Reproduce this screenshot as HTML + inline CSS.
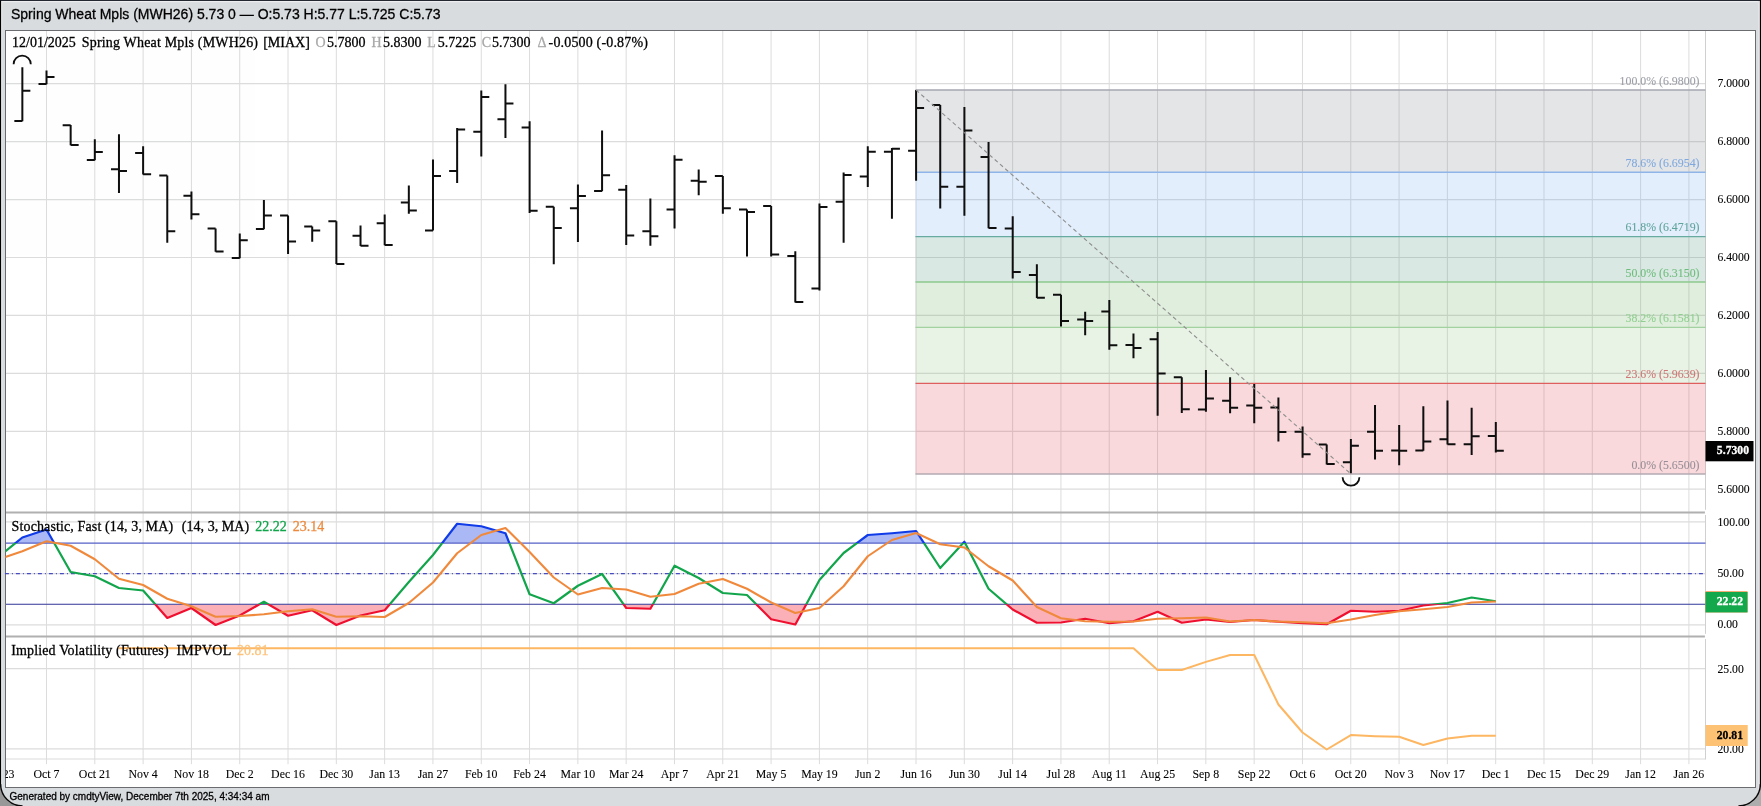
<!DOCTYPE html><html><head><meta charset="utf-8"><title>chart</title>
<style>html,body{margin:0;padding:0;background:#d9dcdf;overflow:hidden}svg{display:block;will-change:transform;opacity:.999}text{font-family:"Liberation Serif",serif;stroke-width:.28px}.s{font-family:"Liberation Sans",sans-serif}</style></head><body>
<svg width="1761" height="806" viewBox="0 0 1761 806">
<defs>
<clipPath id="cp"><rect x="5.5" y="30" width="1700" height="760"/></clipPath>
<clipPath id="cHi"><rect x="5.5" y="500" width="1700" height="43"/></clipPath>
<clipPath id="cMid"><rect x="5.5" y="543" width="1700" height="61.25"/></clipPath>
<clipPath id="cLo"><rect x="5.5" y="604.25" width="1700" height="40"/></clipPath>
</defs>
<rect x="0" y="0" width="1761" height="806" fill="#d9dcdf"/>
<rect x="5.5" y="30.5" width="1750" height="757" fill="#ffffff" stroke="#6a6c70" stroke-width="1"/>
<line x1="46.50" y1="31" x2="46.50" y2="764.2" stroke="#dcdcdc" stroke-width="1"/>
<line x1="94.81" y1="31" x2="94.81" y2="764.2" stroke="#dcdcdc" stroke-width="1"/>
<line x1="143.11" y1="31" x2="143.11" y2="764.2" stroke="#dcdcdc" stroke-width="1"/>
<line x1="191.42" y1="31" x2="191.42" y2="764.2" stroke="#dcdcdc" stroke-width="1"/>
<line x1="239.72" y1="31" x2="239.72" y2="764.2" stroke="#dcdcdc" stroke-width="1"/>
<line x1="288.03" y1="31" x2="288.03" y2="764.2" stroke="#dcdcdc" stroke-width="1"/>
<line x1="336.34" y1="31" x2="336.34" y2="764.2" stroke="#dcdcdc" stroke-width="1"/>
<line x1="384.64" y1="31" x2="384.64" y2="764.2" stroke="#dcdcdc" stroke-width="1"/>
<line x1="432.95" y1="31" x2="432.95" y2="764.2" stroke="#dcdcdc" stroke-width="1"/>
<line x1="481.25" y1="31" x2="481.25" y2="764.2" stroke="#dcdcdc" stroke-width="1"/>
<line x1="529.56" y1="31" x2="529.56" y2="764.2" stroke="#dcdcdc" stroke-width="1"/>
<line x1="577.87" y1="31" x2="577.87" y2="764.2" stroke="#dcdcdc" stroke-width="1"/>
<line x1="626.17" y1="31" x2="626.17" y2="764.2" stroke="#dcdcdc" stroke-width="1"/>
<line x1="674.48" y1="31" x2="674.48" y2="764.2" stroke="#dcdcdc" stroke-width="1"/>
<line x1="722.78" y1="31" x2="722.78" y2="764.2" stroke="#dcdcdc" stroke-width="1"/>
<line x1="771.09" y1="31" x2="771.09" y2="764.2" stroke="#dcdcdc" stroke-width="1"/>
<line x1="819.40" y1="31" x2="819.40" y2="764.2" stroke="#dcdcdc" stroke-width="1"/>
<line x1="867.70" y1="31" x2="867.70" y2="764.2" stroke="#dcdcdc" stroke-width="1"/>
<line x1="916.01" y1="31" x2="916.01" y2="764.2" stroke="#dcdcdc" stroke-width="1"/>
<line x1="964.31" y1="31" x2="964.31" y2="764.2" stroke="#dcdcdc" stroke-width="1"/>
<line x1="1012.62" y1="31" x2="1012.62" y2="764.2" stroke="#dcdcdc" stroke-width="1"/>
<line x1="1060.93" y1="31" x2="1060.93" y2="764.2" stroke="#dcdcdc" stroke-width="1"/>
<line x1="1109.23" y1="31" x2="1109.23" y2="764.2" stroke="#dcdcdc" stroke-width="1"/>
<line x1="1157.54" y1="31" x2="1157.54" y2="764.2" stroke="#dcdcdc" stroke-width="1"/>
<line x1="1205.84" y1="31" x2="1205.84" y2="764.2" stroke="#dcdcdc" stroke-width="1"/>
<line x1="1254.15" y1="31" x2="1254.15" y2="764.2" stroke="#dcdcdc" stroke-width="1"/>
<line x1="1302.46" y1="31" x2="1302.46" y2="764.2" stroke="#dcdcdc" stroke-width="1"/>
<line x1="1350.76" y1="31" x2="1350.76" y2="764.2" stroke="#dcdcdc" stroke-width="1"/>
<line x1="1399.07" y1="31" x2="1399.07" y2="764.2" stroke="#dcdcdc" stroke-width="1"/>
<line x1="1447.37" y1="31" x2="1447.37" y2="764.2" stroke="#dcdcdc" stroke-width="1"/>
<line x1="1495.68" y1="31" x2="1495.68" y2="764.2" stroke="#dcdcdc" stroke-width="1"/>
<line x1="1543.99" y1="31" x2="1543.99" y2="764.2" stroke="#dcdcdc" stroke-width="1"/>
<line x1="1592.29" y1="31" x2="1592.29" y2="764.2" stroke="#dcdcdc" stroke-width="1"/>
<line x1="1640.60" y1="31" x2="1640.60" y2="764.2" stroke="#dcdcdc" stroke-width="1"/>
<line x1="1688.90" y1="31" x2="1688.90" y2="764.2" stroke="#dcdcdc" stroke-width="1"/>
<line x1="6" y1="83.70" x2="1705.5" y2="83.70" stroke="#dcdcdc" stroke-width="1.2"/>
<line x1="6" y1="141.63" x2="1705.5" y2="141.63" stroke="#dcdcdc" stroke-width="1.2"/>
<line x1="6" y1="199.56" x2="1705.5" y2="199.56" stroke="#dcdcdc" stroke-width="1.2"/>
<line x1="6" y1="257.49" x2="1705.5" y2="257.49" stroke="#dcdcdc" stroke-width="1.2"/>
<line x1="6" y1="315.42" x2="1705.5" y2="315.42" stroke="#dcdcdc" stroke-width="1.2"/>
<line x1="6" y1="373.35" x2="1705.5" y2="373.35" stroke="#dcdcdc" stroke-width="1.2"/>
<line x1="6" y1="431.28" x2="1705.5" y2="431.28" stroke="#dcdcdc" stroke-width="1.2"/>
<line x1="6" y1="489.21" x2="1705.5" y2="489.21" stroke="#dcdcdc" stroke-width="1.2"/>
<line x1="6" y1="521.90" x2="1705.5" y2="521.90" stroke="#dcdcdc" stroke-width="1.2"/>
<line x1="6" y1="573.70" x2="1705.5" y2="573.70" stroke="#dcdcdc" stroke-width="1.2"/>
<line x1="6" y1="624.80" x2="1705.5" y2="624.80" stroke="#dcdcdc" stroke-width="1.2"/>
<line x1="6" y1="668.70" x2="1705.5" y2="668.70" stroke="#dcdcdc" stroke-width="1.2"/>
<line x1="6" y1="748.90" x2="1705.5" y2="748.90" stroke="#dcdcdc" stroke-width="1.2"/>
<line x1="6" y1="759" x2="1705.5" y2="759" stroke="#dcdcdc" stroke-width="1.2"/>
<line x1="1705.5" y1="31" x2="1705.5" y2="759.5" stroke="#d0d0d0" stroke-width="1"/>
<rect x="915.5" y="90" width="790.0" height="82.30" fill="rgba(120,123,134,0.2)"/>
<rect x="915.5" y="172.3" width="790.0" height="64.30" fill="rgba(100,165,240,0.185)"/>
<rect x="915.5" y="236.6" width="790.0" height="45.40" fill="rgba(70,140,120,0.2)"/>
<rect x="915.5" y="282" width="790.0" height="45.40" fill="rgba(100,170,85,0.2)"/>
<rect x="915.5" y="327.4" width="790.0" height="56.00" fill="rgba(140,190,125,0.2)"/>
<rect x="915.5" y="383.4" width="790.0" height="90.60" fill="rgba(225,65,75,0.2)"/>
<line x1="915.5" y1="90" x2="1705.5" y2="90" stroke="#a6a7b0" stroke-width="1.4"/>
<line x1="915.5" y1="172.3" x2="1705.5" y2="172.3" stroke="#8fb5e8" stroke-width="1.4"/>
<line x1="915.5" y1="236.6" x2="1705.5" y2="236.6" stroke="#66aaa0" stroke-width="1.4"/>
<line x1="915.5" y1="282" x2="1705.5" y2="282" stroke="#8cc98c" stroke-width="1.4"/>
<line x1="915.5" y1="327.4" x2="1705.5" y2="327.4" stroke="#a2d29f" stroke-width="1.4"/>
<line x1="915.5" y1="383.4" x2="1705.5" y2="383.4" stroke="#df5f5f" stroke-width="1.4"/>
<line x1="915.5" y1="474" x2="1705.5" y2="474" stroke="#b3aab2" stroke-width="1.4"/>
<path d="M22.35 67.20V121.20M14.35 121.00H22.35M22.35 90.70H30.35M46.51 70.60V84.30M38.51 84.10H46.51M46.51 77.00H54.51M70.66 125.00V145.25M62.66 125.25H70.66M70.66 145.00H78.66M94.81 139.25V160.25M86.81 160.00H94.81M94.81 152.00H102.81M118.97 134.25V193.00M110.97 169.25H118.97M118.97 171.00H126.97M143.12 146.25V174.50M135.12 153.00H143.12M143.12 174.25H151.12M167.28 175.50V242.75M159.28 175.50H167.28M167.28 231.25H175.28M191.44 191.50V219.50M183.44 195.75H191.44M191.44 214.25H199.44M215.59 228.50V251.75M207.59 228.50H215.59M215.59 251.50H223.59M239.75 233.50V258.25M231.75 258.00H239.75M239.75 240.25H247.75M263.90 200.00V229.25M255.90 229.00H263.90M263.90 215.50H271.90M288.06 215.50V254.00M280.06 215.50H288.06M288.06 241.50H296.06M312.21 226.50V241.75M304.21 226.50H312.21M312.21 230.50H320.21M336.37 221.25V264.00M328.37 221.25H336.37M336.37 264.00H344.37M360.52 225.50V246.00M352.52 235.75H360.52M360.52 245.75H368.52M384.68 214.50V245.25M376.68 223.25H384.68M384.68 245.00H392.68M408.83 185.50V213.75M400.83 202.50H408.83M408.83 210.50H416.83M432.99 159.40V230.60M424.99 230.40H432.99M432.99 176.00H440.99M457.14 128.00V183.00M449.14 171.00H457.14M457.14 129.50H465.14M481.30 90.50V156.50M473.30 131.75H481.30M481.30 97.00H489.30M505.45 84.25V138.00M497.45 119.25H505.45M505.45 103.50H513.45M529.61 121.25V213.00M521.61 127.50H529.61M529.61 210.75H537.61M553.76 206.75V264.25M545.76 206.75H553.76M553.76 228.00H561.76M577.92 184.50V242.00M569.92 208.25H577.92M577.92 196.00H585.92M602.07 130.50V191.25M594.07 191.00H602.07M602.07 175.25H610.07M626.23 185.00V245.00M618.23 189.75H626.23M626.23 235.50H634.23M650.38 198.50V245.75M642.38 231.25H650.38M650.38 236.25H658.38M674.54 155.25V228.50M666.54 209.50H674.54M674.54 159.75H682.54M698.69 169.50V195.25M690.69 180.75H698.69M698.69 181.75H706.69M722.85 176.00V213.75M714.85 176.00H722.85M722.85 208.25H730.85M747.00 209.50V256.50M739.00 209.50H747.00M747.00 212.00H755.00M771.16 206.00V256.50M763.16 206.00H771.16M771.16 254.40H779.16M795.31 251.25V302.50M787.31 256.00H795.31M795.31 302.10H803.31M819.47 203.50V290.40M811.47 288.40H819.47M819.47 207.00H827.47M843.62 172.50V242.75M835.62 201.75H843.62M843.62 175.00H851.62M867.78 146.25V187.00M859.78 176.50H867.78M867.78 151.75H875.78M891.93 148.00V218.75M883.93 151.75H891.93M891.93 148.75H899.93M916.09 90.00V180.75M908.09 150.75H916.09M916.09 108.00H924.09M940.24 105.00V208.50M932.24 105.00H940.24M940.24 186.75H948.24M964.40 107.00V215.75M956.40 186.75H964.40M964.40 130.50H972.40M988.55 142.00V228.25M980.55 157.00H988.55M988.55 228.00H996.55M1012.71 216.25V278.50M1004.71 228.60H1012.71M1012.71 272.00H1020.71M1036.86 264.25V298.00M1028.86 275.00H1036.86M1036.86 297.75H1044.86M1061.01 294.75V326.50M1053.01 294.75H1061.01M1061.01 321.00H1069.01M1085.17 311.75V335.25M1077.17 319.50H1085.17M1085.17 321.00H1093.17M1109.33 300.00V349.75M1101.33 311.50H1109.33M1109.33 345.25H1117.33M1133.48 333.60V358.25M1125.48 345.10H1133.48M1133.48 348.10H1141.48M1157.63 331.90V415.75M1149.63 339.25H1157.63M1157.63 373.40H1165.63M1181.79 377.25V413.00M1173.79 377.25H1181.79M1181.79 409.25H1189.79M1205.94 370.00V411.75M1197.94 409.50H1205.94M1205.94 398.50H1213.94M1230.10 377.25V413.25M1222.10 400.75H1230.10M1230.10 407.75H1238.10M1254.25 384.00V423.25M1246.25 405.50H1254.25M1254.25 407.75H1262.25M1278.41 397.60V441.50M1270.41 407.50H1278.41M1278.41 432.00H1286.41M1302.57 426.50V457.75M1294.57 431.75H1302.57M1302.57 454.25H1310.57M1326.72 444.50V464.50M1318.72 444.50H1326.72M1326.72 464.00H1334.72M1350.88 439.00V473.25M1342.88 462.25H1350.88M1350.88 445.75H1358.88M1375.03 405.00V459.50M1367.03 431.75H1375.03M1375.03 450.75H1383.03M1399.18 425.00V465.25M1391.18 450.50H1399.18M1399.18 450.75H1407.18M1423.34 406.25V450.75M1415.34 450.50H1423.34M1423.34 441.50H1431.34M1447.49 400.50V444.50M1439.49 439.25H1447.49M1447.49 444.25H1455.49M1471.65 407.75V455.00M1463.65 444.25H1471.65M1471.65 436.25H1479.65M1495.81 422.00V452.50M1487.81 436.00H1495.81M1495.81 450.75H1503.81" stroke="#0e0e0e" stroke-width="2" fill="none"/>
<line x1="916" y1="90" x2="1351" y2="474" stroke="#8e8e8e" stroke-width="1.1" stroke-dasharray="4,3"/>
<text x="1699.5" y="84.8" font-size="11.85" text-anchor="end" fill="#9b9da6" stroke="#9b9da6" style="stroke-width:.08px">100.0% (6.9800)</text>
<text x="1699.5" y="167.1" font-size="11.85" text-anchor="end" fill="#7fa8de" stroke="#7fa8de" style="stroke-width:.08px">78.6% (6.6954)</text>
<text x="1699.5" y="231.4" font-size="11.85" text-anchor="end" fill="#5fa39b" stroke="#5fa39b" style="stroke-width:.08px">61.8% (6.4719)</text>
<text x="1699.5" y="276.8" font-size="11.85" text-anchor="end" fill="#6fbd7c" stroke="#6fbd7c" style="stroke-width:.08px">50.0% (6.3150)</text>
<text x="1699.5" y="322.2" font-size="11.85" text-anchor="end" fill="#90cf90" stroke="#90cf90" style="stroke-width:.08px">38.2% (6.1581)</text>
<text x="1699.5" y="378.2" font-size="11.85" text-anchor="end" fill="#cf7676" stroke="#cf7676" style="stroke-width:.08px">23.6% (5.9639)</text>
<text x="1699.5" y="468.8" font-size="11.85" text-anchor="end" fill="#978e97" stroke="#978e97" style="stroke-width:.08px">0.0% (5.6500)</text>
<rect x="1704.9" y="509.79999999999995" width="1.4" height="5.2" fill="#fff"/>
<line x1="6" y1="512.4" x2="1704.9" y2="512.4" stroke="#b0b0b0" stroke-width="2"/>
<rect x="1704.9" y="633.8" width="1.4" height="5.2" fill="#fff"/>
<line x1="6" y1="636.4" x2="1704.9" y2="636.4" stroke="#b0b0b0" stroke-width="2"/>
<path d="M13.6 64.2A8.4 8.4 0 0 1 30.8 64.2" stroke="#0e0e0e" stroke-width="1.8" fill="none"/>
<path d="M1342.6 477.3A8.4 8.4 0 0 0 1359.4 477.3" stroke="#0e0e0e" stroke-width="1.8" fill="none"/>
<g clip-path="url(#cp)">
<polygon clip-path="url(#cHi)" points="-1.80,543 -1.80,557.2 22.35,537.5 46.51,529.5 70.66,572 94.81,576.25 118.97,588 143.12,590.5 167.28,618 191.44,608 215.59,625 239.75,615.5 263.90,601.75 288.06,615.75 312.21,610.25 336.37,625 360.52,615.5 384.68,610.25 408.83,582 432.99,555 457.14,523.75 481.30,526.25 505.45,533.25 529.61,594.25 553.76,603.25 577.92,585.75 602.07,574 626.23,608 650.38,608.75 674.54,565.75 698.69,578 722.85,593 747.00,595 771.16,619.25 795.31,624.5 819.47,580 843.62,553 867.78,535 891.93,533.25 916.09,531 940.24,568 964.40,541.75 988.55,588.75 1012.71,609.5 1036.86,622.75 1061.01,622.5 1085.17,618.75 1109.33,623.25 1133.48,621.25 1157.63,611.75 1181.79,622.75 1205.94,619.5 1230.10,622 1254.25,620 1278.41,621.75 1302.57,623.25 1326.72,624.25 1350.88,610.75 1375.03,611.75 1399.18,610.75 1423.34,605.5 1447.49,603 1471.65,597.5 1495.81,601.25 1495.81,543" fill="#aab9f6"/>
<polygon clip-path="url(#cLo)" points="-1.80,604.25 -1.80,557.2 22.35,537.5 46.51,529.5 70.66,572 94.81,576.25 118.97,588 143.12,590.5 167.28,618 191.44,608 215.59,625 239.75,615.5 263.90,601.75 288.06,615.75 312.21,610.25 336.37,625 360.52,615.5 384.68,610.25 408.83,582 432.99,555 457.14,523.75 481.30,526.25 505.45,533.25 529.61,594.25 553.76,603.25 577.92,585.75 602.07,574 626.23,608 650.38,608.75 674.54,565.75 698.69,578 722.85,593 747.00,595 771.16,619.25 795.31,624.5 819.47,580 843.62,553 867.78,535 891.93,533.25 916.09,531 940.24,568 964.40,541.75 988.55,588.75 1012.71,609.5 1036.86,622.75 1061.01,622.5 1085.17,618.75 1109.33,623.25 1133.48,621.25 1157.63,611.75 1181.79,622.75 1205.94,619.5 1230.10,622 1254.25,620 1278.41,621.75 1302.57,623.25 1326.72,624.25 1350.88,610.75 1375.03,611.75 1399.18,610.75 1423.34,605.5 1447.49,603 1471.65,597.5 1495.81,601.25 1495.81,604.25" fill="#fbb0b8"/>
</g>
<line x1="6" y1="543.1" x2="1705.5" y2="543.1" stroke="#5560c6" stroke-width="1.3"/>
<line x1="4.9" y1="573.7" x2="1705.5" y2="573.7" stroke="#474dc0" stroke-width="1.2" stroke-dasharray="4,3,1,3" stroke-dashoffset="0"/>
<line x1="6" y1="604.3" x2="1705.5" y2="604.3" stroke="#30389a" stroke-width="1.1"/>
<g clip-path="url(#cp)" fill="none" stroke-width="2.2" stroke-linejoin="round">
<polyline clip-path="url(#cHi)" points="-1.80,557.2 22.35,537.5 46.51,529.5 70.66,572 94.81,576.25 118.97,588 143.12,590.5 167.28,618 191.44,608 215.59,625 239.75,615.5 263.90,601.75 288.06,615.75 312.21,610.25 336.37,625 360.52,615.5 384.68,610.25 408.83,582 432.99,555 457.14,523.75 481.30,526.25 505.45,533.25 529.61,594.25 553.76,603.25 577.92,585.75 602.07,574 626.23,608 650.38,608.75 674.54,565.75 698.69,578 722.85,593 747.00,595 771.16,619.25 795.31,624.5 819.47,580 843.62,553 867.78,535 891.93,533.25 916.09,531 940.24,568 964.40,541.75 988.55,588.75 1012.71,609.5 1036.86,622.75 1061.01,622.5 1085.17,618.75 1109.33,623.25 1133.48,621.25 1157.63,611.75 1181.79,622.75 1205.94,619.5 1230.10,622 1254.25,620 1278.41,621.75 1302.57,623.25 1326.72,624.25 1350.88,610.75 1375.03,611.75 1399.18,610.75 1423.34,605.5 1447.49,603 1471.65,597.5 1495.81,601.25" stroke="#0f3be8"/>
<polyline clip-path="url(#cMid)" points="-1.80,557.2 22.35,537.5 46.51,529.5 70.66,572 94.81,576.25 118.97,588 143.12,590.5 167.28,618 191.44,608 215.59,625 239.75,615.5 263.90,601.75 288.06,615.75 312.21,610.25 336.37,625 360.52,615.5 384.68,610.25 408.83,582 432.99,555 457.14,523.75 481.30,526.25 505.45,533.25 529.61,594.25 553.76,603.25 577.92,585.75 602.07,574 626.23,608 650.38,608.75 674.54,565.75 698.69,578 722.85,593 747.00,595 771.16,619.25 795.31,624.5 819.47,580 843.62,553 867.78,535 891.93,533.25 916.09,531 940.24,568 964.40,541.75 988.55,588.75 1012.71,609.5 1036.86,622.75 1061.01,622.5 1085.17,618.75 1109.33,623.25 1133.48,621.25 1157.63,611.75 1181.79,622.75 1205.94,619.5 1230.10,622 1254.25,620 1278.41,621.75 1302.57,623.25 1326.72,624.25 1350.88,610.75 1375.03,611.75 1399.18,610.75 1423.34,605.5 1447.49,603 1471.65,597.5 1495.81,601.25" stroke="#12a54c"/>
<polyline clip-path="url(#cLo)" points="-1.80,557.2 22.35,537.5 46.51,529.5 70.66,572 94.81,576.25 118.97,588 143.12,590.5 167.28,618 191.44,608 215.59,625 239.75,615.5 263.90,601.75 288.06,615.75 312.21,610.25 336.37,625 360.52,615.5 384.68,610.25 408.83,582 432.99,555 457.14,523.75 481.30,526.25 505.45,533.25 529.61,594.25 553.76,603.25 577.92,585.75 602.07,574 626.23,608 650.38,608.75 674.54,565.75 698.69,578 722.85,593 747.00,595 771.16,619.25 795.31,624.5 819.47,580 843.62,553 867.78,535 891.93,533.25 916.09,531 940.24,568 964.40,541.75 988.55,588.75 1012.71,609.5 1036.86,622.75 1061.01,622.5 1085.17,618.75 1109.33,623.25 1133.48,621.25 1157.63,611.75 1181.79,622.75 1205.94,619.5 1230.10,622 1254.25,620 1278.41,621.75 1302.57,623.25 1326.72,624.25 1350.88,610.75 1375.03,611.75 1399.18,610.75 1423.34,605.5 1447.49,603 1471.65,597.5 1495.81,601.25" stroke="#ef1030"/>
<polyline points="-1.80,559.5 22.35,551.25 46.51,541.25 70.66,545.75 94.81,559.25 118.97,578.75 143.12,585 167.28,598.75 191.44,606.25 215.59,616.75 239.75,616 263.90,614.25 288.06,611.25 312.21,609.25 336.37,616.75 360.52,616.25 384.68,617 408.83,603 432.99,582.5 457.14,553.25 481.30,535 505.45,528 529.61,552 553.76,577.5 577.92,594.5 602.07,588 626.23,589.5 650.38,596.75 674.54,594 698.69,583.75 722.85,579 747.00,588.75 771.16,602.5 795.31,613 819.47,608 843.62,586.25 867.78,556.25 891.93,540 916.09,533 940.24,544.25 964.40,547.5 988.55,566.25 1012.71,580.5 1036.86,607 1061.01,618.25 1085.17,621.25 1109.33,621.75 1133.48,621.5 1157.63,618.75 1181.79,618.25 1205.94,617.5 1230.10,621.5 1254.25,620 1278.41,621.5 1302.57,622.25 1326.72,623.25 1350.88,619.5 1375.03,615 1399.18,611.25 1423.34,609.25 1447.49,607 1471.65,602.5 1495.81,601.5" stroke="#f0893c" stroke-width="2.1"/>
<polyline points="118.97,648.2 1133.48,648.2 1157.63,670 1181.79,670 1205.94,661.9 1230.10,655 1254.25,655 1278.41,704.5 1302.57,732.5 1326.72,749.5 1350.88,735.1 1375.03,736.2 1399.18,736.8 1423.34,745 1447.49,738.5 1471.65,735.7 1495.81,735.7" stroke="#fdb661" stroke-width="2"/>
</g>
<text x="1717.5" y="87.3" font-size="11.7" fill="#000" stroke="#000" style="stroke-width:.08px">7.0000</text>
<text x="1717.5" y="145.2" font-size="11.7" fill="#000" stroke="#000" style="stroke-width:.08px">6.8000</text>
<text x="1717.5" y="203.2" font-size="11.7" fill="#000" stroke="#000" style="stroke-width:.08px">6.6000</text>
<text x="1717.5" y="261.1" font-size="11.7" fill="#000" stroke="#000" style="stroke-width:.08px">6.4000</text>
<text x="1717.5" y="319.0" font-size="11.7" fill="#000" stroke="#000" style="stroke-width:.08px">6.2000</text>
<text x="1717.5" y="376.9" font-size="11.7" fill="#000" stroke="#000" style="stroke-width:.08px">6.0000</text>
<text x="1717.5" y="434.9" font-size="11.7" fill="#000" stroke="#000" style="stroke-width:.08px">5.8000</text>
<text x="1717.5" y="492.8" font-size="11.7" fill="#000" stroke="#000" style="stroke-width:.08px">5.6000</text>
<text x="1717.5" y="525.6" font-size="11.7" fill="#000" stroke="#000" style="stroke-width:.08px">100.00</text>
<text x="1717.5" y="577.4" font-size="11.7" fill="#000" stroke="#000" style="stroke-width:.08px">50.00</text>
<text x="1717.5" y="628.3" font-size="11.7" fill="#000" stroke="#000" style="stroke-width:.08px">0.00</text>
<text x="1717.5" y="672.5" font-size="11.7" fill="#000" stroke="#000" style="stroke-width:.08px">25.00</text>
<text x="1717.5" y="753.0" font-size="11.7" fill="#000" stroke="#000" style="stroke-width:.08px">20.00</text>
<rect x="1705.5" y="441" width="48" height="20.3" fill="#000"/>
<text x="1749" y="453.6" font-size="11.7" font-weight="bold" text-anchor="end" fill="#fff" stroke="#fff">5.7300</text>
<rect x="1705.5" y="591.3" width="42" height="21.1" fill="#f0893c"/>
<rect x="1705.5" y="592" width="42" height="20.4" fill="#12a84b"/>
<text x="1743" y="604.9" font-size="11.7" font-weight="bold" text-anchor="end" fill="#fff" stroke="#fff">22.22</text>
<rect x="1705.5" y="725" width="42.2" height="21" fill="#fdc273"/>
<text x="1743" y="738.8" font-size="11.7" font-weight="bold" text-anchor="end" fill="#000" stroke="#000">20.81</text>
<g clip-path="url(#cp)">
<text x="-1.81" y="778" font-size="11.85" text-anchor="middle" fill="#000" stroke="#000" style="stroke-width:.08px">Sep 23</text>
<text x="46.50" y="778" font-size="11.85" text-anchor="middle" fill="#000" stroke="#000" style="stroke-width:.08px">Oct 7</text>
<text x="94.81" y="778" font-size="11.85" text-anchor="middle" fill="#000" stroke="#000" style="stroke-width:.08px">Oct 21</text>
<text x="143.11" y="778" font-size="11.85" text-anchor="middle" fill="#000" stroke="#000" style="stroke-width:.08px">Nov 4</text>
<text x="191.42" y="778" font-size="11.85" text-anchor="middle" fill="#000" stroke="#000" style="stroke-width:.08px">Nov 18</text>
<text x="239.72" y="778" font-size="11.85" text-anchor="middle" fill="#000" stroke="#000" style="stroke-width:.08px">Dec 2</text>
<text x="288.03" y="778" font-size="11.85" text-anchor="middle" fill="#000" stroke="#000" style="stroke-width:.08px">Dec 16</text>
<text x="336.34" y="778" font-size="11.85" text-anchor="middle" fill="#000" stroke="#000" style="stroke-width:.08px">Dec 30</text>
<text x="384.64" y="778" font-size="11.85" text-anchor="middle" fill="#000" stroke="#000" style="stroke-width:.08px">Jan 13</text>
<text x="432.95" y="778" font-size="11.85" text-anchor="middle" fill="#000" stroke="#000" style="stroke-width:.08px">Jan 27</text>
<text x="481.25" y="778" font-size="11.85" text-anchor="middle" fill="#000" stroke="#000" style="stroke-width:.08px">Feb 10</text>
<text x="529.56" y="778" font-size="11.85" text-anchor="middle" fill="#000" stroke="#000" style="stroke-width:.08px">Feb 24</text>
<text x="577.87" y="778" font-size="11.85" text-anchor="middle" fill="#000" stroke="#000" style="stroke-width:.08px">Mar 10</text>
<text x="626.17" y="778" font-size="11.85" text-anchor="middle" fill="#000" stroke="#000" style="stroke-width:.08px">Mar 24</text>
<text x="674.48" y="778" font-size="11.85" text-anchor="middle" fill="#000" stroke="#000" style="stroke-width:.08px">Apr 7</text>
<text x="722.78" y="778" font-size="11.85" text-anchor="middle" fill="#000" stroke="#000" style="stroke-width:.08px">Apr 21</text>
<text x="771.09" y="778" font-size="11.85" text-anchor="middle" fill="#000" stroke="#000" style="stroke-width:.08px">May 5</text>
<text x="819.40" y="778" font-size="11.85" text-anchor="middle" fill="#000" stroke="#000" style="stroke-width:.08px">May 19</text>
<text x="867.70" y="778" font-size="11.85" text-anchor="middle" fill="#000" stroke="#000" style="stroke-width:.08px">Jun 2</text>
<text x="916.01" y="778" font-size="11.85" text-anchor="middle" fill="#000" stroke="#000" style="stroke-width:.08px">Jun 16</text>
<text x="964.31" y="778" font-size="11.85" text-anchor="middle" fill="#000" stroke="#000" style="stroke-width:.08px">Jun 30</text>
<text x="1012.62" y="778" font-size="11.85" text-anchor="middle" fill="#000" stroke="#000" style="stroke-width:.08px">Jul 14</text>
<text x="1060.93" y="778" font-size="11.85" text-anchor="middle" fill="#000" stroke="#000" style="stroke-width:.08px">Jul 28</text>
<text x="1109.23" y="778" font-size="11.85" text-anchor="middle" fill="#000" stroke="#000" style="stroke-width:.08px">Aug 11</text>
<text x="1157.54" y="778" font-size="11.85" text-anchor="middle" fill="#000" stroke="#000" style="stroke-width:.08px">Aug 25</text>
<text x="1205.84" y="778" font-size="11.85" text-anchor="middle" fill="#000" stroke="#000" style="stroke-width:.08px">Sep 8</text>
<text x="1254.15" y="778" font-size="11.85" text-anchor="middle" fill="#000" stroke="#000" style="stroke-width:.08px">Sep 22</text>
<text x="1302.46" y="778" font-size="11.85" text-anchor="middle" fill="#000" stroke="#000" style="stroke-width:.08px">Oct 6</text>
<text x="1350.76" y="778" font-size="11.85" text-anchor="middle" fill="#000" stroke="#000" style="stroke-width:.08px">Oct 20</text>
<text x="1399.07" y="778" font-size="11.85" text-anchor="middle" fill="#000" stroke="#000" style="stroke-width:.08px">Nov 3</text>
<text x="1447.37" y="778" font-size="11.85" text-anchor="middle" fill="#000" stroke="#000" style="stroke-width:.08px">Nov 17</text>
<text x="1495.68" y="778" font-size="11.85" text-anchor="middle" fill="#000" stroke="#000" style="stroke-width:.08px">Dec 1</text>
<text x="1543.99" y="778" font-size="11.85" text-anchor="middle" fill="#000" stroke="#000" style="stroke-width:.08px">Dec 15</text>
<text x="1592.29" y="778" font-size="11.85" text-anchor="middle" fill="#000" stroke="#000" style="stroke-width:.08px">Dec 29</text>
<text x="1640.60" y="778" font-size="11.85" text-anchor="middle" fill="#000" stroke="#000" style="stroke-width:.08px">Jan 12</text>
<text x="1688.90" y="778" font-size="11.85" text-anchor="middle" fill="#000" stroke="#000" style="stroke-width:.08px">Jan 26</text>
</g>
<text x="12.1" y="47" font-size="14" fill="#000" stroke="#000">12/01/2025</text>
<text x="81.8" y="47" font-size="14" fill="#000" stroke="#000" textLength="176.2">Spring Wheat Mpls (MWH26)</text>
<text x="263.2" y="47" font-size="14" fill="#000" stroke="#000">[MIAX]</text>
<text x="315.4" y="47" font-size="14" fill="#a8a8a8" stroke="#a8a8a8">O</text>
<text x="327" y="47" font-size="14" fill="#000" stroke="#000">5.7800</text>
<text x="371.6" y="47" font-size="14" fill="#a8a8a8" stroke="#a8a8a8">H</text>
<text x="383.1" y="47" font-size="14" fill="#000" stroke="#000">5.8300</text>
<text x="427.3" y="47" font-size="14" fill="#a8a8a8" stroke="#a8a8a8">L</text>
<text x="437.7" y="47" font-size="14" fill="#000" stroke="#000">5.7225</text>
<text x="481.7" y="47" font-size="14" fill="#a8a8a8" stroke="#a8a8a8">C</text>
<text x="492.1" y="47" font-size="14" fill="#000" stroke="#000">5.7300</text>
<text x="537.4" y="47" font-size="14" fill="#a8a8a8" stroke="#a8a8a8">Δ</text>
<text x="548.6" y="47" font-size="14" fill="#000" stroke="#000" textLength="99.3">-0.0500 (-0.87%)</text>
<text x="11.6" y="531.2" font-size="14" fill="#000" stroke="#000" textLength="161.5">Stochastic, Fast (14, 3, MA)</text>
<text x="181.7" y="531.2" font-size="14" fill="#000" stroke="#000" textLength="67.5">(14, 3, MA)</text>
<text x="255.2" y="531.2" font-size="14" fill="#12a54c" stroke="#12a54c">22.22</text>
<text x="292.7" y="531.2" font-size="14" fill="#ec8a3e" stroke="#ec8a3e">23.14</text>
<text x="11.2" y="654.5" font-size="14" fill="#000" stroke="#000" textLength="157.4">Implied Volatility (Futures)</text>
<text x="176.5" y="654.5" font-size="14" fill="#000" stroke="#000" textLength="54.7">IMPVOL</text>
<text x="237" y="654.5" font-size="14" fill="#fdc27a" stroke="#fdc27a">20.81</text>
<text class="s" x="11" y="19" font-size="14" fill="#000" stroke="#000">Spring Wheat Mpls (MWH26) 5.73 0 — O:5.73 H:5.77 L:5.725 C:5.73</text>
<text class="s" x="9.5" y="800" font-size="10" fill="#000" stroke="#000">Generated by cmdtyView, December 7th 2025, 4:34:34 am</text>
<rect x="1" y="1" width="1759" height="1.2" fill="#eceef0"/>
<rect x="1" y="1" width="1.3" height="790" fill="#eceef0"/>
<rect x="1758" y="1" width="1.9" height="790" fill="#e1e3e6"/>
<rect x="0" y="0" width="1.1" height="806" fill="#000"/>
<rect x="0" y="0" width="1761" height="0.9" fill="#10141c"/>
<rect x="1759.9" y="0" width="1.1" height="806" fill="#000"/>
<path d="M0 784V806H22.6A22 22 0 0 1 0.6 784Z" fill="#989898" stroke="none"/>
<path d="M0.6 784A22 22 0 0 0 22.6 806" fill="none" stroke="#0a0a0a" stroke-width="1.4"/>
<path d="M1761 784V806H1738.4A22 22 0 0 0 1760.4 784Z" fill="#adadad" stroke="none"/>
<path d="M1760.4 784A22 22 0 0 1 1738.4 806" fill="none" stroke="#0a0a0a" stroke-width="1.4"/>
</svg></body></html>
